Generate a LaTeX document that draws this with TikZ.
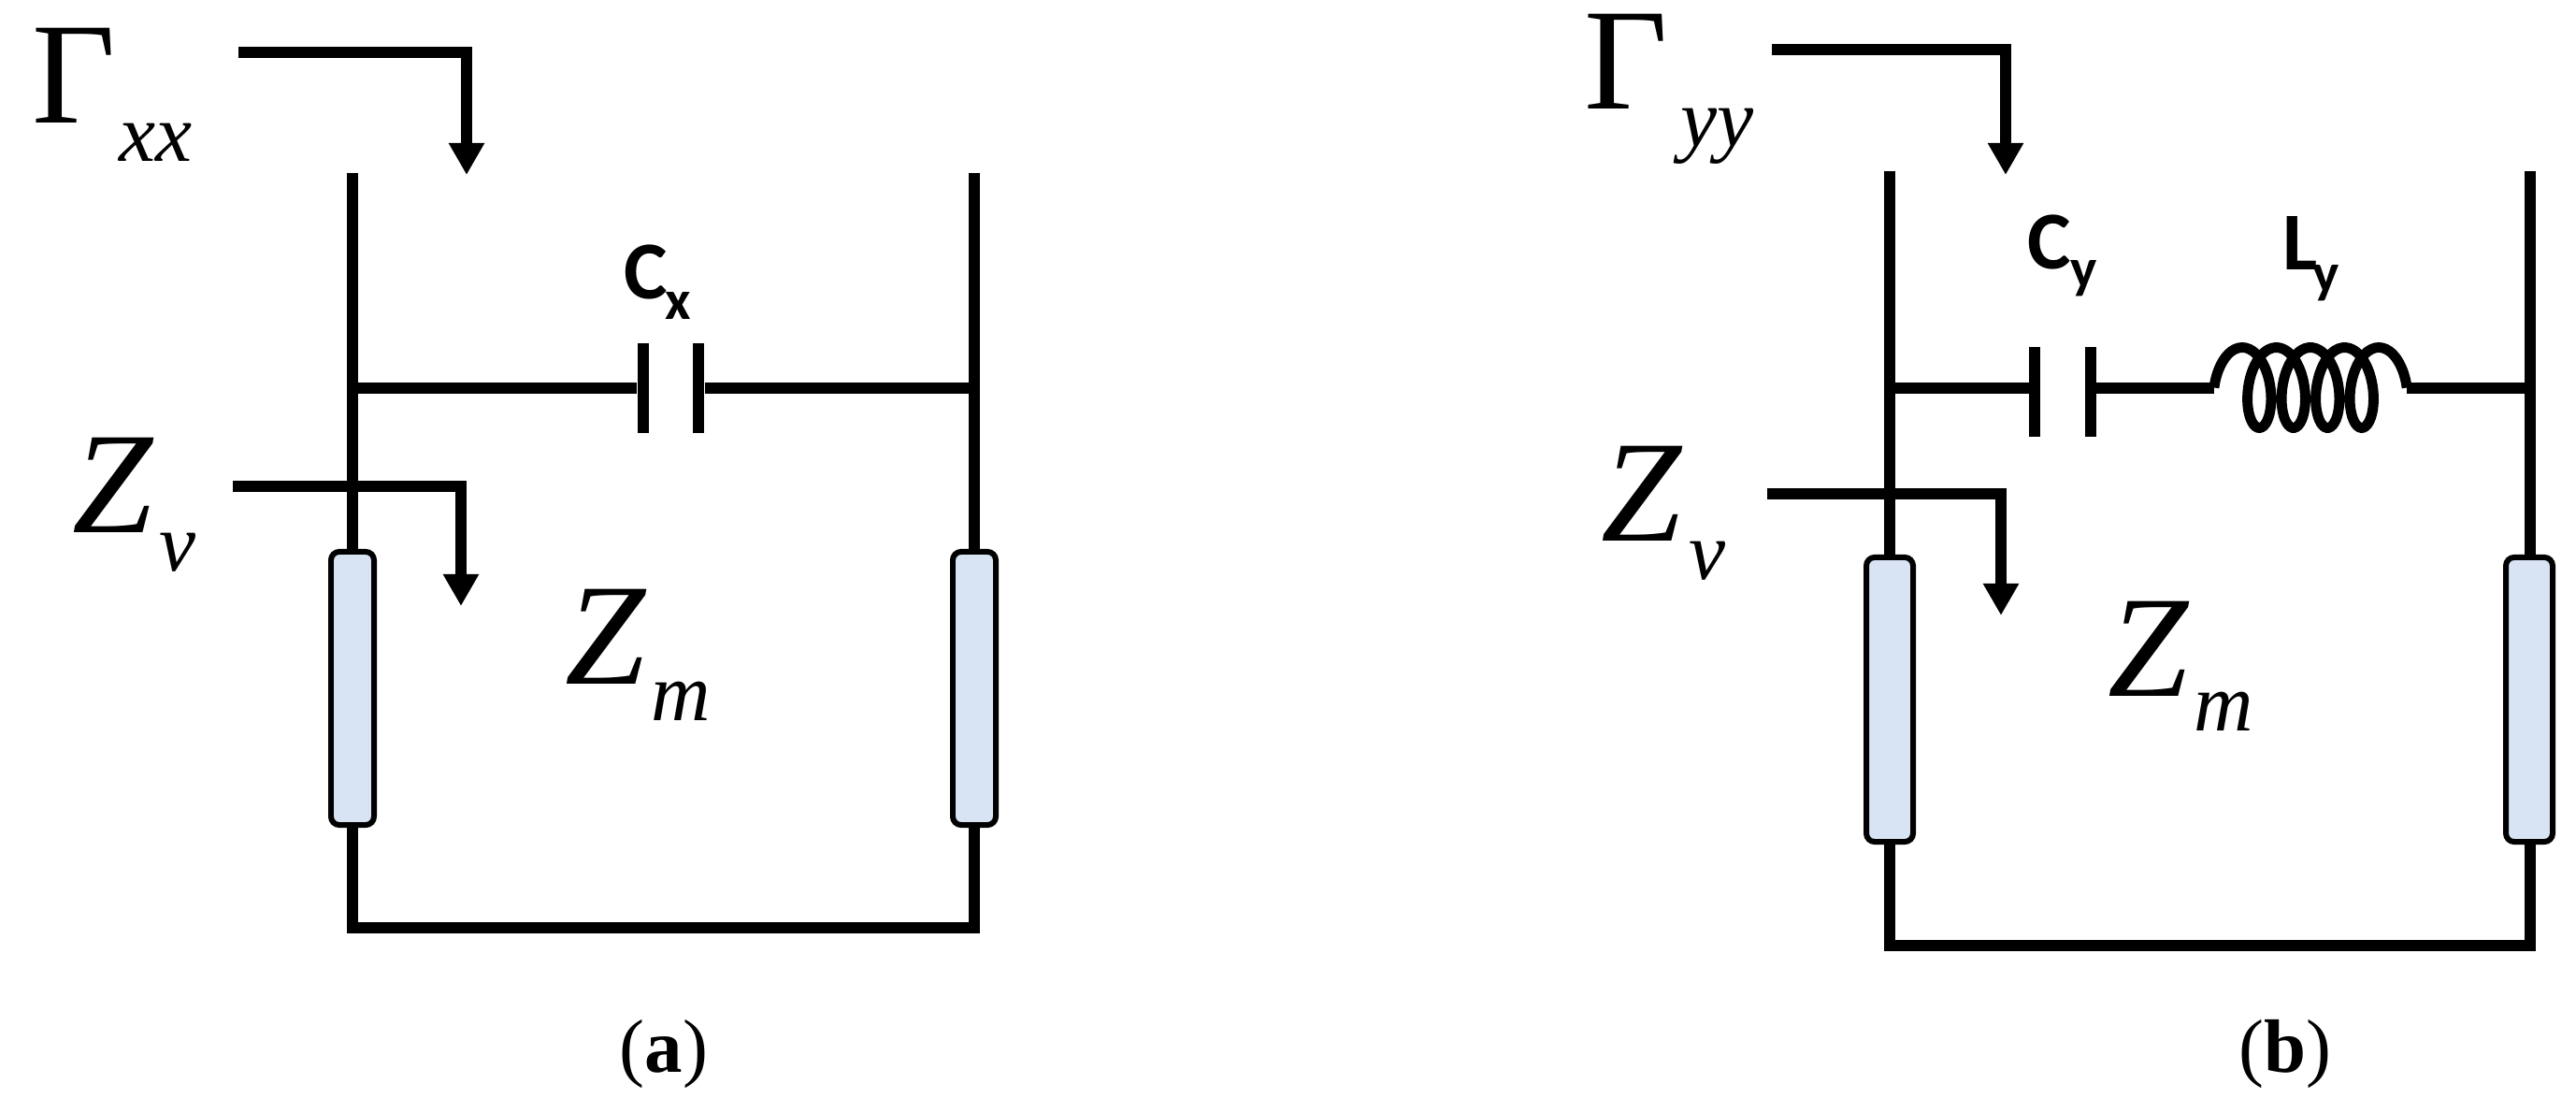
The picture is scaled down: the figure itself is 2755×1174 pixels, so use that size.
\documentclass[tikz,border=0pt]{standalone}
\usepackage{fontspec}
\setmainfont{Liberation Serif}
\newfontfamily\labelfont{Carlito}
\usetikzlibrary{arrows.meta}
\definecolor{stripblue}{HTML}{D8E4F3}
\tikzset{
  wire/.style={line width=3.2pt},
  probe/.style={line width=3.4pt,-{Triangle[length=0.34cm,width=0.36cm]}},
  plate/.style={fill=black,inner sep=0pt,minimum width=0.12cm,minimum height=0.96cm},
  strip/.style={draw,fill=stripblue,line width=1.7pt,rounded corners=0.09cm,inner sep=0pt,minimum width=0.46cm},
  big/.style={inner sep=0pt,anchor=base west,font=\fontsize{44}{44}\selectfont},
  bigz/.style={big,font=\fontsize{44}{44}\selectfont\itshape},
  small/.style={inner sep=0pt,anchor=base west,font=\fontsize{25}{25}\selectfont\itshape},
  caplabel/.style={inner sep=0pt,anchor=base west,font=\labelfont\bfseries\fontsize{25}{25}\selectfont},
  capsub/.style={inner sep=0pt,anchor=base west,font=\labelfont\bfseries\fontsize{17}{17}\selectfont},
  panel/.style={inner sep=0pt,font=\fontsize{23}{23}\selectfont},
  inductor/.style={line width=3.1pt}
}
\begin{document}
\begin{tikzpicture}[x=0.01cm,y=-0.01cm]
  \useasboundingbox (0,0) rectangle (2755,1174);
  % panel a
  \coordinate (aTopL) at (377,185);
  \coordinate (aTopR) at (1042,185);
  \coordinate (aBotL) at (377,992);
  \coordinate (aBotR) at (1042,992);
  \coordinate (aJoinL) at (377,415);
  \coordinate (aJoinR) at (1042,415);
  \node[plate] (aCapL) at (688,415) {};
  \node[plate] (aCapR) at (747,415) {};
  \draw[wire] (aTopL) -- (aBotL) -- (aBotR) -- (aTopR);
  \draw[wire] (aJoinL) -- (aCapL);
  \draw[wire] (aCapR) -- (aJoinR);
  \node[strip,minimum height=2.92cm] (aStripL) at (377,736) {};
  \node[strip,minimum height=2.92cm] (aStripR) at (1042,736) {};
  \coordinate (aGamFrom) at (255,56);
  \coordinate (aGamTip) at (499,187);
  \draw[probe] (aGamFrom) -| (aGamTip);
  \coordinate (aZvFrom) at (249,520);
  \coordinate (aZvTip) at (493,648);
  \draw[probe] (aZvFrom) -| (aZvTip);
  \node[big] (aGam) at (34,132) {Γ};
  \node[small] (aGamSub) at (127,173) {xx};
  \node[bigz] (aZv) at (77,570) {Z};
  \node[small] (aZvSub) at (170,611) {v};
  \node[bigz] (aZm) at (604,732) {Z};
  \node[small] (aZmSub) at (696,771) {m};
  \node[caplabel] (aC) at (667,320) {C};
  \node[capsub] (aCSub) at (711,342) {x};
  \node[panel] (aName) at (710,1127) {(\textbf{a})};
  % panel b
  \coordinate (bTopL) at (2021,183);
  \coordinate (bTopR) at (2706,183);
  \coordinate (bBotL) at (2021,1011);
  \coordinate (bBotR) at (2706,1011);
  \coordinate (bJoinL) at (2021,415);
  \coordinate (bJoinR) at (2706,415);
  \coordinate (bIndL) at (2368,415);
  \coordinate (bIndR) at (2574,415);
  \node[plate] (bCapL) at (2176,419) {};
  \node[plate] (bCapR) at (2236,419) {};
  \draw[wire] (bTopL) -- (bBotL) -- (bBotR) -- (bTopR);
  \draw[wire] (bJoinL) -- (bJoinL -| bCapL);
  \draw[wire] (bJoinL -| bCapR) -- (bIndL);
  \draw[wire] (bIndR) -- (bJoinR);
  \draw[inductor] plot[domain=-90:1530,samples=200,smooth] ({2398+0.10139*\x+21*sin(\x)},{414.5-43*cos(\x)});
  \node[strip,minimum width=0.5cm,minimum height=3.04cm] (bStripL) at (2021,748) {};
  \node[strip,minimum width=0.5cm,minimum height=3.04cm] (bStripR) at (2705,748) {};
  \coordinate (bGamFrom) at (1895,53);
  \coordinate (bGamTip) at (2145,187);
  \draw[probe] (bGamFrom) -| (bGamTip);
  \coordinate (bZvFrom) at (1890,528);
  \coordinate (bZvTip) at (2140,658);
  \draw[probe] (bZvFrom) -| (bZvTip);
  \node[big] (bGam) at (1694,117) {Γ};
  \node[small] (bGamSub) at (1797,157) {yy};
  \node[bigz] (bZv) at (1712,579) {Z};
  \node[small] (bZvSub) at (1806,620) {v};
  \node[bigz] (bZm) at (2254,745) {Z};
  \node[small] (bZmSub) at (2346,782) {m};
  \node[caplabel] (bC) at (2168,288) {C};
  \node[capsub] (bCSub) at (2214,308) {y};
  \node[caplabel] (bL) at (2441,289) {L};
  \node[capsub] (bLSub) at (2473,313) {y};
  \node[panel] (bName) at (2444,1127) {(\textbf{b})};
\end{tikzpicture}
\end{document}
